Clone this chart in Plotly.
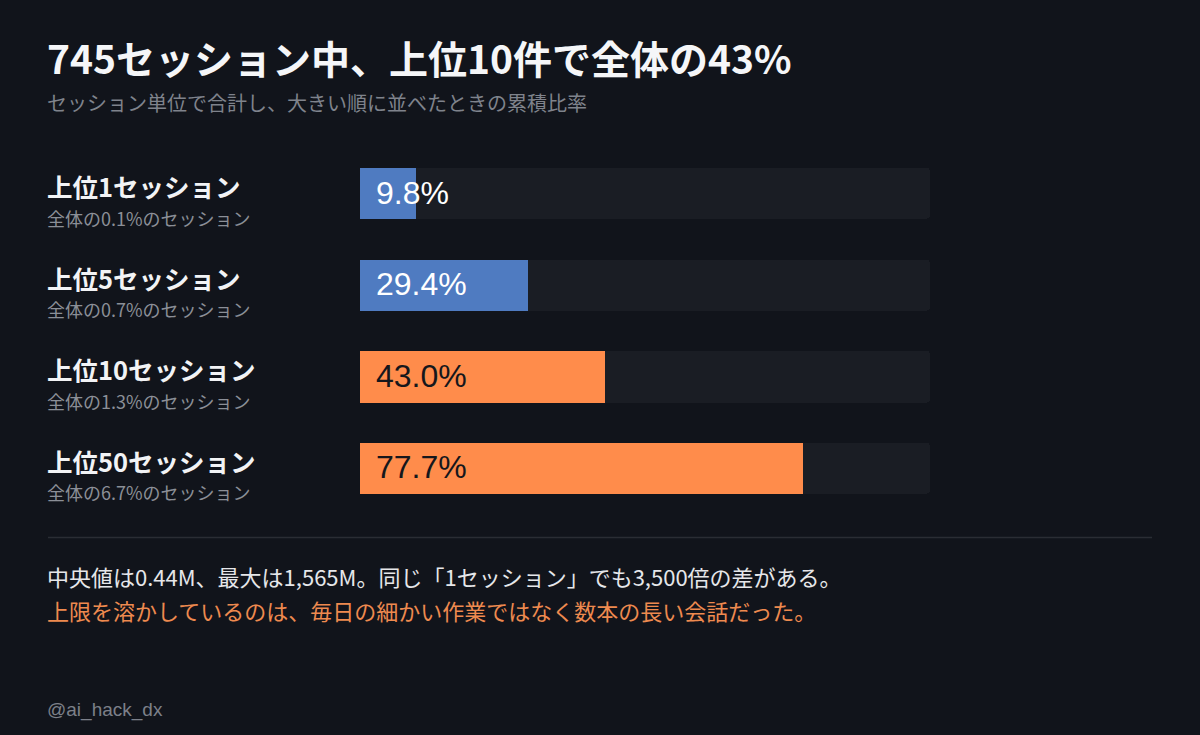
import plotly.graph_objects as go

# data
labels = ['上位1セッション', '上位5セッション', '上位10セッション', '上位50セッション']
sublabels = ['全体の0.1%のセッション', '全体の0.7%のセッション',
             '全体の1.3%のセッション', '全体の6.7%のセッション']
shares = [9.8, 29.4, 43.0, 77.7]
bar_colors = ['#4f7bc1', '#4f7bc1', '#ff8c4b', '#ff8c4b']
value_colors = ['#ffffff', '#ffffff', '#15171c', '#15171c']

title = '745セッション中、上位10件で全体の43%'
subtitle = 'セッション単位で合計し、大きい順に並べたときの累積比率'
note_1 = '中央値は0.44M、最大は1,565M。同じ「1セッション」でも3,500倍の差がある。'
note_2 = '上限を溶かしているのは、毎日の細かい作業ではなく数本の長い会話だった。'
credit = '@ai_hack_dx'

BG = '#11141b'
TRACK = '#1a1d24'
JP = 'Noto Sans CJK JP'

fig = go.Figure()

# background track
fig.add_trace(go.Bar(
    x=[100] * len(labels), y=labels, orientation='h',
    marker=dict(color=TRACK, cornerradius=4, line=dict(width=0)),
    width=0.56, hoverinfo='skip', showlegend=False,
))
# actual shares
fig.add_trace(go.Bar(
    x=shares, y=labels, orientation='h',
    marker=dict(color=bar_colors, cornerradius=4, line=dict(width=0)),
    width=0.56, showlegend=False,
))

annotations = []
for lab, sub, val, col in zip(labels, sublabels, shares, value_colors):
    annotations.append(dict(
        x=0, y=lab, xref='x', yref='y', xanchor='left', yanchor='middle',
        xshift=14, yshift=1, text=f'{val:.1f}%', showarrow=False,
        font=dict(family='Liberation Sans, Arial', size=32, color=col),
    ))
    annotations.append(dict(
        x=0.04, y=lab, xref='paper', yref='y', xanchor='left', yanchor='middle',
        xshift=-3, yshift=8, text=f'<b>{lab}</b>', showarrow=False,
        font=dict(family=JP, size=25.5, color='#f2f3f5'),
    ))
    annotations.append(dict(
        x=0.04, y=lab, xref='paper', yref='y', xanchor='left', yanchor='middle',
        xshift=-3, yshift=-24, text=sub, showarrow=False,
        font=dict(family=JP, size=18, color='#8b8f97'),
    ))

left_texts = [
    (f'<b>{title}</b>', 57, 39, '#f5f6f8', JP),
    (subtitle, 103, 20, '#7f838c', JP),
    (note_1, 576, 22, '#e6e7ea', JP),
    (note_2, 610, 22, '#ee8a4f', JP),
    (credit, 710, 19, '#7c8089', 'Liberation Sans Narrow, Liberation Sans'),
]
for txt, ypx, size, color, family in left_texts:
    annotations.append(dict(
        x=0.04, y=1 - ypx / 735, xref='paper', yref='paper', xanchor='left', yanchor='middle',
        xshift=-3, text=txt, showarrow=False,
        font=dict(family=family, size=size, color=color),
    ))

fig.update_layout(
    width=1200, height=735,
    margin=dict(l=0, r=0, t=0, b=0),
    paper_bgcolor=BG, plot_bgcolor=BG,
    barmode='overlay', bargap=0,
    xaxis=dict(domain=[0.3, 0.775], range=[0, 100], visible=False, fixedrange=True),
    yaxis=dict(domain=[1 - 514.3 / 735, 1 - 147.7 / 735], autorange='reversed',
               categoryorder='array', categoryarray=labels,
               visible=False, fixedrange=True),
    annotations=annotations,
    shapes=[dict(type='line', xref='paper', yref='paper',
                 x0=0.04, x1=0.96, y0=1 - 537.5 / 735, y1=1 - 537.5 / 735,
                 line=dict(color='#2a2d34', width=1.5))],
)

fig.write_html('out.html', config={'displayModeBar': False},
               post_script="document.body.style.margin='0';document.body.style.background='#11141b';")
